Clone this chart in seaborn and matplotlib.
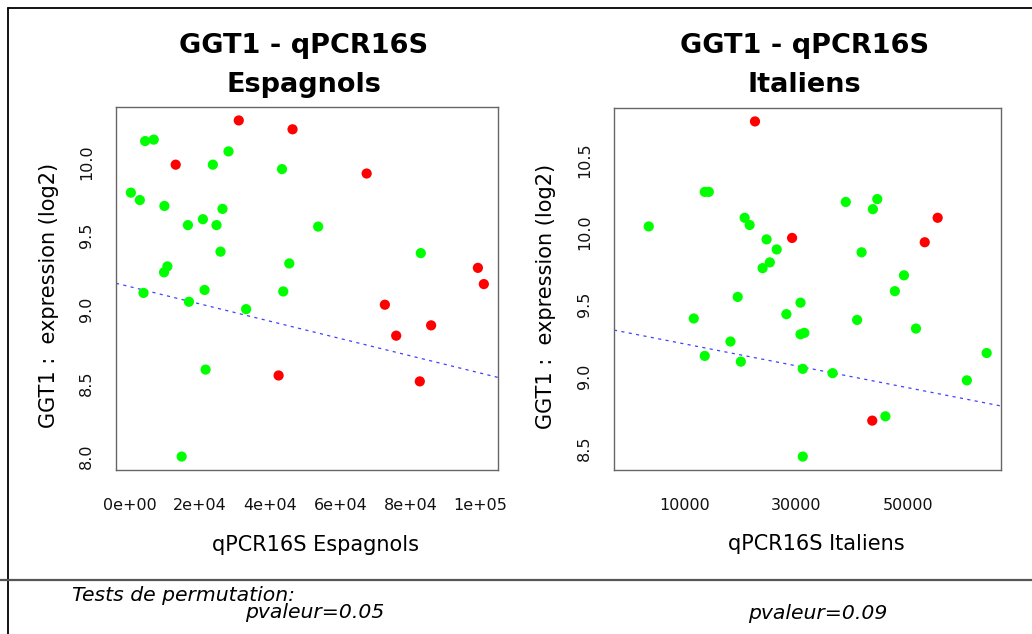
import numpy as np
import matplotlib
matplotlib.use("Agg")
import matplotlib.pyplot as plt
from matplotlib.lines import Line2D
import seaborn as sns

# Espagnols : qPCR16S vs GGT1 (log2)
esp_x = [31000, 46350, 13000, 67500, 99250, 100950, 72700, 85900, 75930, 42370, 82670,
         4270, 6740, 28070, 23600, 43340, 200, 2760, 9780, 26360, 20760,
         16490, 24650, 53660, 25790, 82950, 45420, 10630, 9670, 21240, 43700,
         3810, 16780, 33100, 21530, 14700]
esp_y = [10.28, 10.22, 9.98, 9.92, 9.28, 9.17, 9.03, 8.89, 8.82, 8.55, 8.51,
         10.14, 10.15, 10.07, 9.98, 9.95, 9.79, 9.74, 9.70, 9.68, 9.61,
         9.57, 9.57, 9.56, 9.39, 9.38, 9.31, 9.29, 9.25, 9.13, 9.12,
         9.11, 9.05, 9.00, 8.59, 8.00]
esp_group = ["rouge", "rouge", "rouge", "rouge", "rouge", "rouge", "rouge", "rouge", "rouge", "rouge", "rouge",
             "vert", "vert", "vert", "vert", "vert", "vert", "vert", "vert", "vert", "vert",
             "vert", "vert", "vert", "vert", "vert", "vert", "vert", "vert", "vert", "vert",
             "vert", "vert", "vert", "vert", "vert"]
# droite de regression (ordonnee a l'origine, pente)
esp_droite = [9.152, -5.86e-6]

# Italiens
ita_x = [22640, 29270, 55290, 52980, 43600,
         3650, 13660, 14380, 20790, 21680, 24710, 26520, 25290, 24000, 38870,
         44500, 43710, 41690, 49270, 47640, 19550, 30780, 28250, 11690, 40890,
         51410, 31460, 30780, 18260, 13660, 64050, 20110, 31180, 36510, 60510,
         45950, 31180]
ita_y = [10.77, 9.96, 10.10, 9.93, 8.69,
         10.04, 10.28, 10.28, 10.10, 10.05, 9.95, 9.88, 9.79, 9.75, 10.21,
         10.23, 10.16, 9.86, 9.70, 9.59, 9.55, 9.51, 9.43, 9.40, 9.39,
         9.33, 9.30, 9.29, 9.24, 9.14, 9.16, 9.10, 9.05, 9.02, 8.97,
         8.72, 8.44]
ita_group = ["rouge", "rouge", "rouge", "rouge", "rouge",
             "vert", "vert", "vert", "vert", "vert", "vert", "vert", "vert", "vert", "vert",
             "vert", "vert", "vert", "vert", "vert", "vert", "vert", "vert", "vert", "vert",
             "vert", "vert", "vert", "vert", "vert", "vert", "vert", "vert", "vert", "vert",
             "vert", "vert"]
ita_droite = [9.300, -7.63e-6]

esp_xticks = [0, 20000, 40000, 60000, 80000, 100000]
esp_xlabels = ["0e+00", "2e+04", "4e+04", "6e+04", "8e+04", "1e+05"]
esp_yticks = [8.0, 8.5, 9.0, 9.5, 10.0]
ita_xticks = [10000, 20000, 30000, 40000, 50000, 60000]
ita_xlabels = ["10000", "", "30000", "", "50000", ""]
ita_yticks = [8.5, 9.0, 9.5, 10.0, 10.5]

pvaleurs = ["pvaleur=0.05", "pvaleur=0.09"]

palette = {"vert": "#00ff00", "rouge": "#ff0000"}

sns.set_style("white")
plt.rcParams["font.family"] = ["DejaVu Sans"]
plt.rcParams["text.color"] = "black"
plt.rcParams["axes.labelcolor"] = "black"

W, H = 1032, 634
fig = plt.figure(figsize=(W / 100, H / 100), dpi=100)

ax1 = fig.add_axes([116 / W, 1 - 470 / H, 382 / W, 363 / H])
ax2 = fig.add_axes([614 / W, 1 - 470 / H, 387 / W, 362 / H])

panels = [
    (ax1, esp_x, esp_y, esp_group, esp_droite, "Espagnols", esp_xticks, esp_xlabels, esp_yticks),
    (ax2, ita_x, ita_y, ita_group, ita_droite, "Italiens", ita_xticks, ita_xlabels, ita_yticks),
]

for ax, x, y, grp, droite, nom, xt, xl, yt in panels:
    sns.scatterplot(x=x, y=y, hue=grp, palette=palette, s=54, linewidth=0,
                    legend=False, ax=ax, zorder=3)
    origine, pente = droite
    ax.axline((0, origine), slope=pente, color="blue", lw=0.9, alpha=0.75,
              linestyle=(0, (2.5, 3.5)), zorder=2)
    ax.margins(0.04)

    ax.set_xticks(xt)
    ax.set_xticklabels(xl)
    ax.set_yticks(yt)
    ax.set_yticklabels([f"{v:.1f}" for v in yt], rotation=90, va="center")
    ax.tick_params(axis="both", direction="out", length=8, width=0.8,
                   color="#333333", labelsize=11.5, labelcolor="#111111")
    ax.tick_params(axis="x", pad=12)
    ax.tick_params(axis="y", pad=8)
    for sp in ax.spines.values():
        sp.set_color("#666666")
        sp.set_linewidth(1.0)

    ax.set_xlabel(f"qPCR16S {nom}", fontsize=15)
    ax.xaxis.label.set_va("baseline")
    ax.xaxis.set_label_coords(0.522, -0.222)
    ax.set_ylabel("GGT1 :  expression (log2)", fontsize=15)
    ax.yaxis.label.set_va("baseline")
    ax.yaxis.set_label_coords(-0.160, 0.48)

    pos = ax.get_position()
    cx = pos.x0 + pos.width / 2 - 3 / W
    fig.text(cx, 1 - 53 / H, "GGT1 - qPCR16S", ha="center", va="baseline",
             fontsize=19.5, fontweight="bold")
    fig.text(cx, 1 - 92 / H, nom, ha="center", va="baseline",
             fontsize=19.5, fontweight="bold")

# cadre de la diapositive
fig.add_artist(Line2D([8 / W, 1], [1 - 7.5 / H, 1 - 7.5 / H], color="black", lw=1.3))
fig.add_artist(Line2D([8 / W, 8 / W], [1 - 7.5 / H, 0], color="black", lw=1.3))
fig.add_artist(Line2D([0, 1], [1 - 580 / H, 1 - 580 / H], color="#555555", lw=1.6))

fig.text(72 / W, 1 - 601 / H, "Tests de permutation:", ha="left", va="baseline",
         fontsize=14.7, style="italic")
fig.text(245 / W, 1 - 618 / H, pvaleurs[0], ha="left", va="baseline",
         fontsize=14.7, style="italic")
fig.text(748 / W, 1 - 619 / H, pvaleurs[1], ha="left", va="baseline",
         fontsize=14.7, style="italic")

fig.savefig("out.png", dpi=100)
